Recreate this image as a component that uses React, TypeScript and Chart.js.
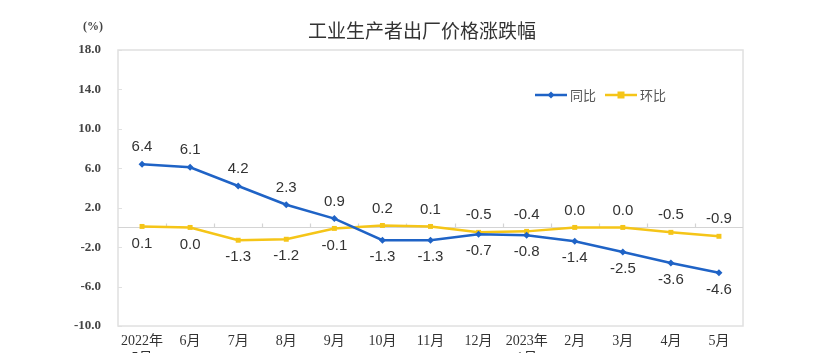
import React, { useEffect, useRef } from "react";
import { Chart, registerables } from "chart.js";

Chart.register(...registerables);

const chartTitle = "工业生产者出厂价格涨跌幅";
const unitLabel = "(%)";
const categories: (string | string[])[] = [
  ["2022年", "5月"], "6月", "7月", "8月", "9月", "10月", "11月", "12月",
  ["2023年", "1月"], "2月", "3月", "4月", "5月",
];
const seriesNames = ["同比", "环比"];
const yoyValues = [6.4, 6.1, 4.2, 2.3, 0.9, -1.3, -1.3, -0.7, -0.8, -1.4, -2.5, -3.6, -4.6];
const momValues = [0.1, 0.0, -1.3, -1.2, -0.1, 0.2, 0.1, -0.5, -0.4, 0.0, 0.0, -0.5, -0.9];
const yMin = -10;
const yMax = 18;
const yStep = 4;

const BLUE = "#1f63c6";
const YELLOW = "#f5c518";
const SERIF = "'Liberation Serif', 'Noto Sans CJK SC', serif";
const SANS = "'Liberation Sans', Arial, sans-serif";
const CJK = "'Noto Sans CJK SC', sans-serif";

const decorPlugin = {
  id: "decor",
  beforeDatasetsDraw(chart: any) {
    const { ctx, chartArea: a, scales } = chart;
    const x = scales.x;
    const y = scales.y;
    ctx.save();
    ctx.strokeStyle = "#e0e0e0";
    ctx.lineWidth = 1.5;
    ctx.strokeRect(a.left, a.top, a.right - a.left, a.bottom - a.top);
    ctx.lineWidth = 1;
    y.ticks.forEach((t: any) => {
      const py = Math.round(y.getPixelForValue(t.value)) + 0.5;
      ctx.beginPath();
      ctx.moveTo(a.left, py);
      ctx.lineTo(a.left + 4, py);
      ctx.stroke();
    });
    const zy = Math.round(y.getPixelForValue(0)) + 0.5;
    ctx.strokeStyle = "#d4d4d4";
    ctx.lineWidth = 1.2;
    ctx.beginPath();
    ctx.moveTo(a.left, zy);
    ctx.lineTo(a.right, zy);
    ctx.stroke();
    const step = x.getPixelForValue(1) - x.getPixelForValue(0);
    for (let i = 1; i < categories.length; i++) {
      const px = Math.round(x.getPixelForValue(i) - step / 2) + 0.5;
      ctx.beginPath();
      ctx.moveTo(px, zy);
      ctx.lineTo(px, zy - 4);
      ctx.stroke();
    }
    ctx.restore();
  },
  afterDatasetsDraw(chart: any) {
    const { ctx, scales } = chart;
    const x = scales.x;
    const y = scales.y;
    ctx.save();
    ctx.font = `15px ${SANS}`;
    ctx.fillStyle = "#333";
    ctx.textAlign = "center";
    ctx.textBaseline = "middle";
    const all = [yoyValues, momValues];
    all.forEach((vals, si) => {
      const other = all[1 - si];
      vals.forEach((v, i) => {
        const above = si === 0 ? v >= other[i] : v > other[i];
        const px = x.getPixelForValue(i);
        const py = y.getPixelForValue(v) + (above ? -17 : 17);
        ctx.fillText(v.toFixed(1), px, py);
      });
    });
    ctx.restore();
  },
  afterDraw(chart: any) {
    const { ctx, chartArea: a } = chart;
    ctx.save();
    ctx.font = `19px ${CJK}`;
    ctx.fillStyle = "#333";
    ctx.textAlign = "center";
    ctx.textBaseline = "middle";
    ctx.fillText(chartTitle, 422, 31);
    ctx.font = `bold 12px ${SERIF}`;
    ctx.fillStyle = "#444";
    ctx.textAlign = "right";
    ctx.fillText(unitLabel, a.left - 15, 27);
    const colors = [BLUE, YELLOW];
    const starts = [535, 605];
    const ly = 95;
    seriesNames.forEach((name, i) => {
      const sx = starts[i];
      ctx.strokeStyle = colors[i];
      ctx.lineWidth = 2.5;
      ctx.beginPath();
      ctx.moveTo(sx, ly);
      ctx.lineTo(sx + 32, ly);
      ctx.stroke();
      ctx.fillStyle = colors[i];
      const cx = sx + 16;
      if (i === 0) {
        ctx.beginPath();
        ctx.moveTo(cx, ly - 3.5);
        ctx.lineTo(cx + 3.5, ly);
        ctx.lineTo(cx, ly + 3.5);
        ctx.lineTo(cx - 3.5, ly);
        ctx.closePath();
        ctx.fill();
      } else {
        ctx.fillRect(cx - 3.5, ly - 3.5, 7, 7);
      }
      ctx.font = `13px ${CJK}`;
      ctx.fillStyle = "#555";
      ctx.textAlign = "left";
      ctx.textBaseline = "middle";
      ctx.fillText(name, sx + 35, ly);
    });
    ctx.restore();
  },
};

export default function App() {
  const ref = useRef<HTMLCanvasElement | null>(null);
  useEffect(() => {
    if (!ref.current) return;
    const chart = new Chart(ref.current, {
      type: "line",
      data: {
        labels: categories as any,
        datasets: [
          {
            label: seriesNames[0],
            data: yoyValues,
            borderColor: BLUE,
            backgroundColor: BLUE,
            borderWidth: 2.5,
            pointStyle: "rectRot",
            pointRadius: 3.5,
            pointBorderWidth: 0,
            tension: 0,
          },
          {
            label: seriesNames[1],
            data: momValues,
            borderColor: YELLOW,
            backgroundColor: YELLOW,
            borderWidth: 2.5,
            pointStyle: "rect",
            pointRadius: 3.5,
            pointBorderWidth: 0,
            tension: 0,
          },
        ],
      },
      options: {
        responsive: false,
        animation: false,
        layout: { padding: { top: 50, right: 88, left: 0, bottom: 0 } },
        plugins: {
          legend: { display: false },
          title: { display: false },
          tooltip: { enabled: false },
        },
        scales: {
          x: {
            offset: true,
            grid: { display: false, drawTicks: false },
            border: { display: false },
            ticks: {
              autoSkip: false,
              maxRotation: 0,
              padding: 7,
              color: "#333",
              font: { family: SERIF, size: 14 },
            },
            afterFit: (s: any) => {
              s.height = 27;
            },
          },
          y: {
            min: yMin,
            max: yMax,
            grid: { display: false, drawTicks: false },
            border: { display: false },
            ticks: {
              stepSize: yStep,
              padding: 17,
              color: "#444",
              font: { family: SERIF, size: 13, weight: "bold" },
              callback: (v: any) => Number(v).toFixed(1),
            },
            afterFit: (s: any) => {
              s.width = 118;
            },
          },
        },
      },
      plugins: [decorPlugin],
    });
    return () => chart.destroy();
  }, []);
  return (
    <div style={{ position: "absolute", left: 0, top: 0, width: 831, height: 353, overflow: "hidden", background: "#fff" }}>
      <canvas ref={ref} width={831} height={353} />
    </div>
  );
}
